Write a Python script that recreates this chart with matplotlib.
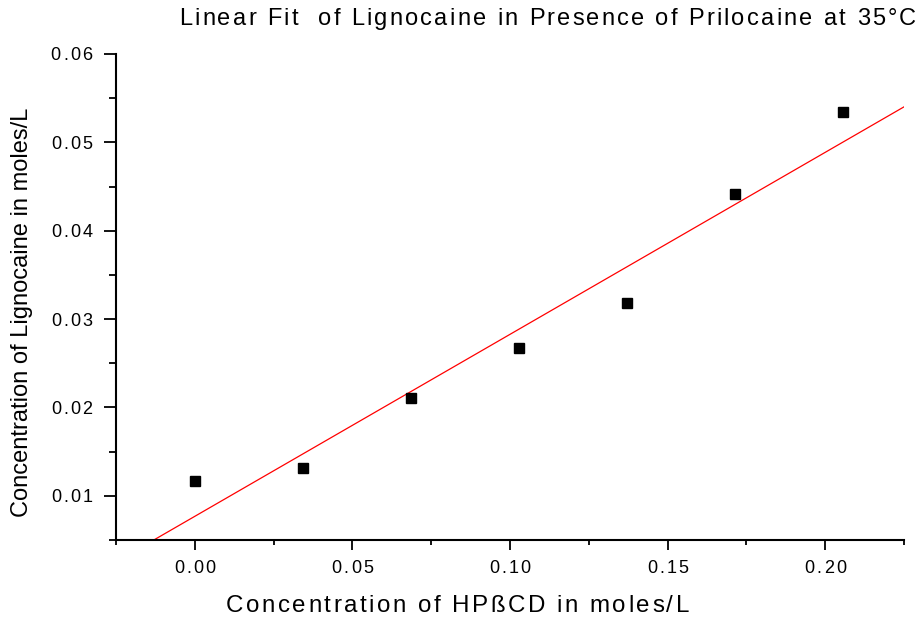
import numpy as np
import matplotlib
matplotlib.use("Agg")
import matplotlib.pyplot as plt
from matplotlib.ticker import MultipleLocator
from matplotlib.font_manager import FontProperties

# data
hpbcd = [0.0, 0.0343, 0.0686, 0.1029, 0.1372, 0.1715, 0.2058]
lignocaine = [0.0117, 0.0132, 0.0211, 0.0267, 0.0318, 0.0442, 0.0534]

title = "Linear Fit  of Lignocaine in Presence of Prilocaine at 35\u00b0C"
xlabel = "Concentration of HP\u00dfCD in moles/L"
ylabel = "Concentration of Lignocaine in moles/L"

W, H = 920, 618
fig = plt.figure(figsize=(W / 100, H / 100), dpi=100)
ax = fig.add_axes([116 / W, 1 - 540 / H, (904 - 116) / W, (540 - 54) / H])
renderer = fig.canvas.get_renderer()
FAM = "Liberation Sans"


def spaced_text(s, size, x, base, gap, ha="center"):
    # draw s one char at a time with extra gap (px); x, base in image pixels from top-left
    prop = FontProperties(family=FAM, size=size)
    widths = [renderer.get_text_width_height_descent(c, prop, ismath=False)[0] for c in s]
    total = sum(widths) + gap * (len(s) - 1)
    if ha == "center":
        x0 = x - total / 2
    elif ha == "right":
        x0 = x - total
    else:
        x0 = x
    for c, w in zip(s, widths):
        fig.text(x0 / W, 1 - base / H, c, fontproperties=prop, ha="left", va="baseline")
        x0 += w + gap


# linear fit across the whole x range
slope, icpt = np.polyfit(hpbcd, lignocaine, 1)
xs = np.array([-0.025, 0.225])
ax.plot(xs, slope * xs + icpt, color="red", lw=0.9, zorder=2)
ax.plot(hpbcd, lignocaine, "s", color="black", ms=7.5, zorder=3)

ax.set_xlim(-0.025, 0.225)
ax.set_ylim(0.005, 0.06)
ax.xaxis.set_major_locator(MultipleLocator(0.05))
ax.xaxis.set_minor_locator(MultipleLocator(0.025))
ax.yaxis.set_major_locator(MultipleLocator(0.01))
ax.yaxis.set_minor_locator(MultipleLocator(0.005))

for s in ["top", "right"]:
    ax.spines[s].set_visible(False)
for s in ["left", "bottom"]:
    ax.spines[s].set_linewidth(1.5)

ax.tick_params(axis="x", which="major", direction="out", length=7.2, width=1.3,
               labelbottom=False)
ax.tick_params(axis="x", which="minor", direction="out", length=3.6, width=1.3)
ax.tick_params(axis="y", which="major", direction="out", length=9, width=1.3,
               labelleft=False)
ax.tick_params(axis="y", which="minor", direction="out", length=4.8, width=1.3)

# tick labels, letter spaced like the original
for v in ax.get_xticks():
    if -0.025 <= v <= 0.225 + 1e-9:
        px = ax.transData.transform((v, 0.005))[0]
        spaced_text("%.2f" % v, 13, px, 573, 2.2)
for v in ax.get_yticks():
    if 0.005 <= v <= 0.06 + 1e-9:
        py = H - ax.transData.transform((0, v))[1]
        spaced_text("%.2f" % v, 13, 92.5, py + 6.5, 2.2, ha="right")

spaced_text(title, 17, 547.5, 25.3, 2.24)
spaced_text(xlabel, 17.4, 457.5, 611.7, 2.5)
fig.text(22 / W, 1 - 312 / H, ylabel, ha="center", va="center", rotation=90,
         fontsize=17, family=FAM)

fig.savefig("out.png", dpi=100)
